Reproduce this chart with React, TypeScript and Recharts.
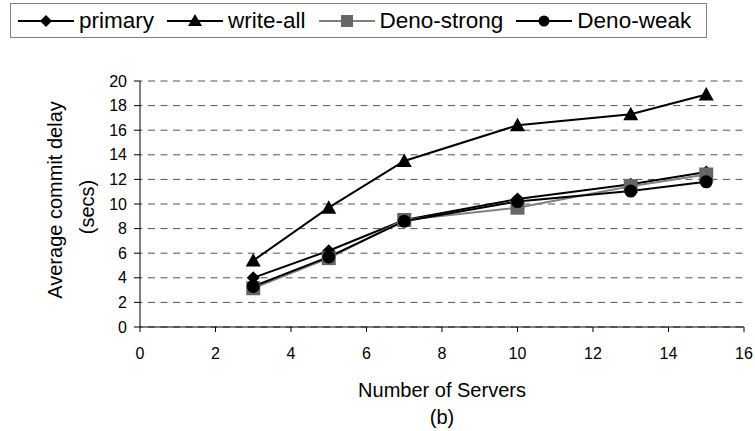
import React from 'react';
import { LineChart, Line, XAxis, YAxis, CartesianGrid } from 'recharts';

const servers = [3, 5, 7, 10, 13, 15];
const primary = [4.0, 6.2, 8.7, 10.4, 11.6, 12.6];
const writeAll = [5.4, 9.7, 13.5, 16.4, 17.3, 18.9];
const denoStrong = [3.15, 5.6, 8.7, 9.7, 11.45, 12.4];
const denoWeak = [3.3, 5.7, 8.6, 10.2, 11.05, 11.8];
const xTicks = [0, 2, 4, 6, 8, 10, 12, 14, 16];
const yTicks = [0, 2, 4, 6, 8, 10, 12, 14, 16, 18, 20];
const seriesNames = ['primary', 'write-all', 'Deno-strong', 'Deno-weak'];

const data = servers.map((s, i) => ({
  servers: s,
  primary: primary[i],
  writeAll: writeAll[i],
  denoStrong: denoStrong[i],
  denoWeak: denoWeak[i],
}));

const FONT = '"Liberation Sans", Arial, sans-serif';

const Diamond = (p: any) => {
  const { cx, cy, index } = p;
  if (cx == null || cy == null) return <g key={index} />;
  const r = 6.5;
  return <path key={index} d={`M${cx},${cy - r}L${cx + r},${cy}L${cx},${cy + r}L${cx - r},${cy}Z`} fill="#000" />;
};
const Triangle = (p: any) => {
  const { cx, cy, index } = p;
  if (cx == null || cy == null) return <g key={index} />;
  return <path key={index} d={`M${cx},${cy - 7.5}L${cx + 7.5},${cy + 6}L${cx - 7.5},${cy + 6}Z`} fill="#000" />;
};
const Square = (p: any) => {
  const { cx, cy, index } = p;
  if (cx == null || cy == null) return <g key={index} />;
  return <rect key={index} x={cx - 7} y={cy - 7} width={14} height={14} fill="#666" />;
};
const Circle = (p: any) => {
  const { cx, cy, index } = p;
  if (cx == null || cy == null) return <g key={index} />;
  return <circle key={index} cx={cx} cy={cy} r={6.5} fill="#000" />;
};

const legendIcon = (i: number) => {
  const color = i === 2 ? '#808080' : '#000';
  let marker: React.ReactNode = null;
  if (i === 0) marker = <path d="M28,3L34,9L28,15L22,9Z" fill="#000" />;
  if (i === 1) marker = <path d="M28,2L35,14L21,14Z" fill="#000" />;
  if (i === 2) marker = <rect x={22} y={3} width={12} height={12} fill="#666" />;
  if (i === 3) marker = <circle cx={28} cy={9} r={5.5} fill="#000" />;
  return (
    <svg width={56} height={18} style={{ display: 'block' }}>
      <line x1={0} y1={9} x2={56} y2={9} stroke={color} strokeWidth={2} />
      {marker}
    </svg>
  );
};

const YLabel = (props: any) => {
  const vb = props.viewBox || {};
  const cy = (vb.y ?? 81) + (vb.height ?? 246) / 2;
  return (
    <g>
      <text x={55} y={cy - 4} transform={`rotate(-90, 55, ${cy - 4})`} textAnchor="middle" dominantBaseline="central" fontSize={20} fontFamily={FONT} fill="#000">
        Average commit delay
      </text>
      <text x={87} y={cy + 3} transform={`rotate(-90, 87, ${cy + 3})`} textAnchor="middle" dominantBaseline="central" fontSize={20} fontFamily={FONT} fill="#000">
        (secs)
      </text>
    </g>
  );
};

const XLabel = (props: any) => {
  const vb = props.viewBox || {};
  const cx = (vb.x ?? 140) + (vb.width ?? 604) / 2;
  return (
    <g>
      <text x={cx} y={397} textAnchor="middle" fontSize={20} fontFamily={FONT} fill="#000">
        Number of Servers
      </text>
      <text x={cx} y={424} textAnchor="middle" fontSize={20} fontFamily={FONT} fill="#000">
        (b)
      </text>
    </g>
  );
};

export default function App() {
  return (
    <div style={{ position: 'absolute', left: 0, top: 0, width: 755, height: 431, background: '#fff' }}>
      <div
        style={{
          position: 'absolute',
          left: 10,
          top: 3,
          width: 697,
          height: 35,
          border: '1px solid #808080',
          boxSizing: 'border-box',
          display: 'flex',
          alignItems: 'center',
          paddingLeft: 7,
          fontFamily: FONT,
          fontSize: 22.5,
          color: '#000',
          whiteSpace: 'nowrap',
        }}
      >
        {seriesNames.map((n, i) => (
          <div key={n} style={{ display: 'flex', alignItems: 'center', marginRight: 13 }}>
            {legendIcon(i)}
            <span style={{ marginLeft: 5, lineHeight: '24px' }}>{n}</span>
          </div>
        ))}
      </div>
      <LineChart
        width={755}
        height={431}
        data={data}
        margin={{ top: 81, right: 11, bottom: 74, left: 0 }}
        style={{ fontFamily: FONT }}
      >
        <CartesianGrid horizontal vertical={false} stroke="#555" strokeDasharray="7 5.5" strokeDashoffset={-8} />
        <XAxis
          dataKey="servers"
          type="number"
          domain={[0, 16]}
          ticks={xTicks}
          interval={0}
          height={30}
          axisLine={{ stroke: '#000', strokeWidth: 1 }}
          tickLine={{ stroke: '#000' }}
          tickSize={5}
          tickMargin={16}
          tick={{ fill: '#000', fontSize: 16, fontFamily: FONT }}
          label={<XLabel />}
        />
        <YAxis
          type="number"
          domain={[0, 20]}
          ticks={yTicks}
          interval={0}
          width={140}
          axisLine={{ stroke: '#000', strokeWidth: 1 }}
          tickLine={{ stroke: '#000' }}
          tickSize={6}
          tickMargin={7}
          tick={{ fill: '#000', fontSize: 16, fontFamily: FONT }}
          label={<YLabel />}
        />
        <Line dataKey="primary" name="primary" stroke="#000" strokeWidth={2} dot={Diamond} activeDot={false} isAnimationActive={false} />
        <Line dataKey="writeAll" name="write-all" stroke="#000" strokeWidth={2} dot={Triangle} activeDot={false} isAnimationActive={false} />
        <Line dataKey="denoStrong" name="Deno-strong" stroke="#808080" strokeWidth={2} dot={Square} activeDot={false} isAnimationActive={false} />
        <Line dataKey="denoWeak" name="Deno-weak" stroke="#000" strokeWidth={2} dot={Circle} activeDot={false} isAnimationActive={false} />
      </LineChart>
    </div>
  );
}
